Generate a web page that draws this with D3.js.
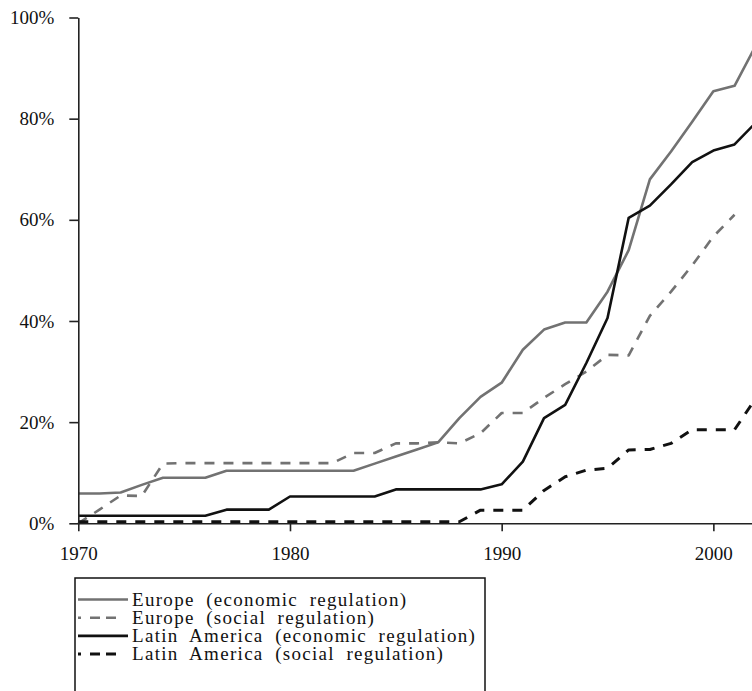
<!DOCTYPE html>
<html>
<head>
<meta charset="utf-8">
<script src="https://cdn.jsdelivr.net/npm/d3@7"></script>
<style>
  html, body { margin: 0; padding: 0; background: #fff; }
  svg { display: block; }
  text { font-family: "Liberation Serif", "Times New Roman", "DejaVu Serif", serif; fill: #111; }
</style>
</head>
<body>
<svg id="chart" width="752" height="691"></svg>
<script>
// ---- data (percent of countries) ----
const years = d3.range(1970, 2003);
const europeEconomic = [5.9, 5.9, 6.1, 7.6, 9.0, 9.0, 9.0, 10.4, 10.4, 10.4, 10.4, 10.4, 10.4, 10.4, 11.8, 13.2, 14.6, 16.0, 20.8, 25.0, 27.8, 34.3, 38.3, 39.7, 39.7, 45.8, 54.0, 68.0, 73.5, 79.4, 85.4, 86.5, 94.4];
const europeSocial = [0, 2.7, 5.5, 5.4, 11.8, 11.9, 11.9, 11.9, 11.9, 11.9, 11.9, 11.9, 11.9, 13.9, 13.9, 15.8, 15.8, 16.0, 15.8, 17.8, 21.8, 21.8, 24.8, 27.5, 30.0, 33.3, 33.2, 41.0, 45.8, 51.0, 56.7, 61.0];
const latinEconomic = [1.5, 1.5, 1.5, 1.5, 1.5, 1.5, 1.5, 2.7, 2.7, 2.7, 5.3, 5.3, 5.3, 5.3, 5.3, 6.7, 6.7, 6.7, 6.7, 6.7, 7.7, 12.2, 20.8, 23.4, 31.7, 40.6, 60.4, 62.8, 67.0, 71.4, 73.7, 74.9, 79.2];
const latinSocial = [0.3, 0.3, 0.3, 0.3, 0.3, 0.3, 0.3, 0.3, 0.3, 0.3, 0.3, 0.3, 0.3, 0.3, 0.3, 0.3, 0.3, 0.3, 0.3, 2.6, 2.6, 2.6, 6.5, 9.2, 10.5, 10.9, 14.5, 14.6, 15.8, 18.5, 18.5, 18.5, 24.7];
const seriesNames = ["Europe (economic regulation)", "Europe (social regulation)", "Latin America (economic regulation)", "Latin America (social regulation)"];
const xTicks = [1970, 1980, 1990, 2000];
const yTicks = [0, 20, 40, 60, 80, 100];

const series = [
  { name: seriesNames[0], values: europeEconomic, color: "#727272", width: 2.6, dash: null },
  { name: seriesNames[1], values: europeSocial, color: "#727272", width: 2.6, dash: "10,9" },
  { name: seriesNames[2], values: latinEconomic, color: "#111111", width: 2.6, dash: null },
  { name: seriesNames[3], values: latinSocial, color: "#111111", width: 3, dash: "10,9" }
];

const svg = d3.select("#chart");
const x = d3.scaleLinear().domain([1970, 2002]).range([78.3, 755.7]);
const y = d3.scaleLinear().domain([0, 100]).range([523.3, 17.5]);

// lines
const line = d3.line().x(d => x(d[0])).y(d => y(d[1]));
const g = svg.append("g");
series.forEach(s => {
  const pts = s.values.map((v, i) => [years[i], v]);
  g.append("path")
    .datum(pts)
    .attr("fill", "none")
    .attr("stroke", s.color)
    .attr("stroke-width", s.width)
    .attr("stroke-dasharray", s.dash)
    .attr("stroke-linejoin", "round")
    .attr("d", line);
});

// axes
const xAxis = svg.append("g")
  .attr("transform", `translate(0,${y(0)})`)
  .call(d3.axisBottom(x).tickValues(xTicks).tickFormat(d3.format("d")).tickSize(8).tickSizeOuter(0).tickPadding(15));
const yAxis = svg.append("g")
  .attr("transform", `translate(${x(1970)},0)`)
  .call(d3.axisLeft(y).tickValues(yTicks).tickFormat(d => d + "%").tickSize(9).tickSizeOuter(0).tickPadding(15));
[xAxis, yAxis].forEach(a => {
  a.select(".domain").attr("stroke", "#222").attr("stroke-width", 1.6);
  a.selectAll(".tick line").attr("stroke", "#222").attr("stroke-width", 1.6);
  a.selectAll(".tick text").attr("font-size", 19).attr("fill", "#111");
});

// legend
const lg = svg.append("g");
lg.append("rect")
  .attr("x", 75).attr("y", 578).attr("width", 410).attr("height", 140)
  .attr("fill", "#fff").attr("stroke", "#111").attr("stroke-width", 1.5);
series.forEach((s, i) => {
  const by = 605.5 + i * 18.2;
  lg.append("line")
    .attr("x1", 78).attr("x2", 128)
    .attr("y1", by - 6).attr("y2", by - 6)
    .attr("stroke", s.color)
    .attr("stroke-width", s.width)
    .attr("stroke-dasharray", s.dash ? "3,9,10,6,10,20" : null);
  lg.append("text")
    .attr("x", 132).attr("y", by)
    .attr("font-size", 19)
    .attr("letter-spacing", 1.3)
    .attr("word-spacing", 5.5)
    .text(s.name);
});
</script>
</body>
</html>
